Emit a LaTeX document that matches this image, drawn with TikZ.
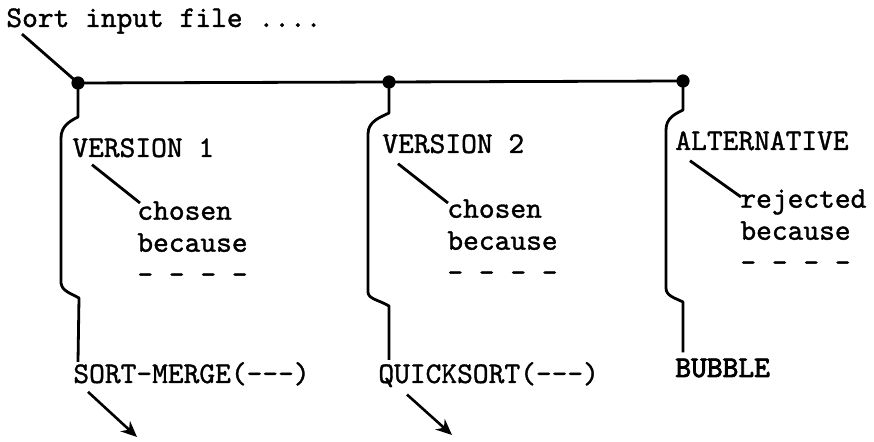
\documentclass[tikz,border=0pt]{standalone}
\usepackage{fontspec}
\usepackage{tikz}
\usetikzlibrary{arrows.meta}
\newfontfamily\typefont{lmmono10-regular.otf}[FakeBold=1.2]
\newfontfamily\typeboldfont{lmmono10-regular.otf}[FakeBold=2.6]

\begin{document}
\begin{tikzpicture}[
    x=0.5pt, y=-0.5pt,
    font=\fontsize{15}{16}\typefont,
    txt/.style={inner sep=0pt, anchor=base west},
    why/.style={inner sep=0pt, anchor=north west, align=left},
    wire/.style={line width=1.4pt, line join=round},
    junc/.style={circle, fill, inner sep=0pt, minimum size=6.6pt},
    arr/.style={-{Stealth[length=8pt, width=7pt]}, line width=1.3pt}]
  \useasboundingbox (0,0) rectangle (874,442);
  % heading and branch points
  \node[txt] (title) at (6,27) {Sort input file ....};
  \node[junc] (j1) at (78,83) {};
  \node[junc] (j2) at (389,82) {};
  \node[junc] (j3) at (683,81) {};
  % version 1
  \node[txt] (v1) at (72,157) {VERSION 1};
  \node[why] (v1why) at (137,201) {chosen\\because\\- - - -};
  \node[txt] (v1impl) at (73,383) {SORT-MERGE(---)};
  \coordinate (v1next) at (137,437);
  % version 2
  \node[txt] (v2) at (382,153) {VERSION 2};
  \node[why] (v2why) at (447,199) {chosen\\because\\- - - -};
  \node[txt] (v2impl) at (378,383) {QUICKSORT(---)};
  \coordinate (v2next) at (452,435);
  % rejected alternative
  \node[txt] (alt) at (675,150) {ALTERNATIVE};
  \node[why] (altwhy) at (740,189) {rejected\\because\\- - - -};
  \node[txt, font=\fontsize{15}{16}\typeboldfont] (altimpl) at (675,377) {BUBBLE};

  \draw[wire] ([shift={(16,0)}]title.south west) -- (j1.center);
  \draw[wire] (j1.center) -- (j2.center) -- (j3.center);
  % brackets
  \draw[wire] (j1.center) -- (78,117) .. controls (70,121) and (61,126) .. (61,138)
    -- (61,283) .. controls (62,291) and (70,293) .. (79,298) -- (j1 |- v1impl.north);
  \draw[wire] (j2.center) -- (389,113) .. controls (381,117) and (368,121) .. (368,134)
    -- (368,292) .. controls (368,299) and (379,300) .. (389,306) -- ([yshift=1pt]j2 |- v2impl.north);
  \draw[wire] (j3.center) -- (683,110) .. controls (675,114) and (666,118) .. (666,130)
    -- (666,288) .. controls (666,296) and (675,298) .. (683,302) -- ([yshift=3pt]j3 |- altimpl.north);
  % reasons
  \draw[wire] ([shift={(20,7)}]v1.south west) -- ([shift={(3,2)}]v1why.north west);
  \draw[wire] ([shift={(16,10)}]v2.south west) -- ([shift={(1,4)}]v2why.north west);
  \draw[wire] ([shift={(15,10)}]alt.south west) -- ([shift={(1,8)}]altwhy.north west);
  % onward
  \draw[arr] ([shift={(15,6)}]v1impl.south west) -- (v1next);
  \draw[arr] ([shift={(29,7)}]v2impl.south west) -- (v2next);
\end{tikzpicture}
\end{document}
